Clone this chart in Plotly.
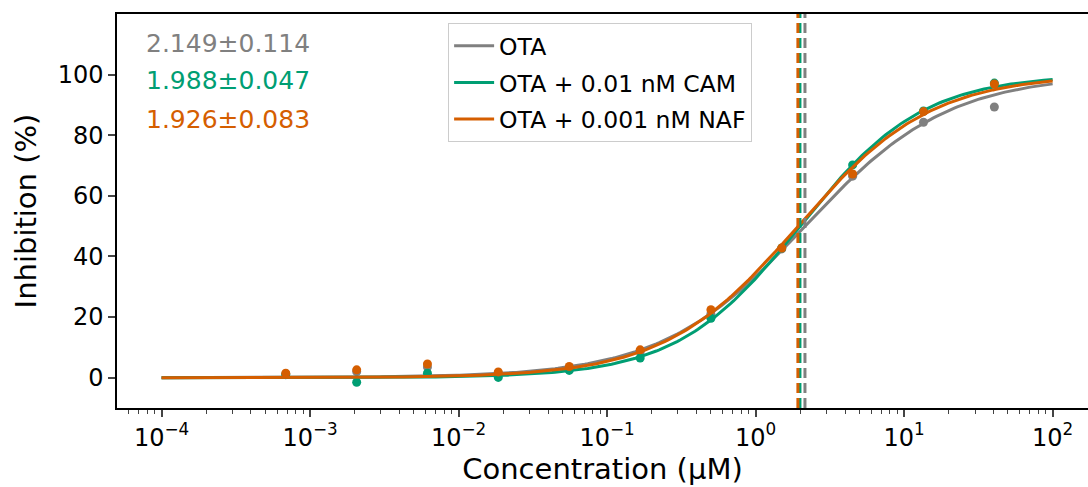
import numpy as np
import plotly.graph_objects as go

# ---- data ----
conc = [0.000686, 0.00206, 0.00617, 0.0185, 0.0556, 0.167, 0.5, 1.5, 4.5, 13.5, 40.5]
ota = [1.2, 2.0, 3.5, 1.5, 3.0, 8.5, 21.0, 42.5, 66.5, 84.3, 89.3]
ota_cam = [1.0, -1.5, 1.5, 0.1, 2.4, 6.5, 19.6, 42.8, 70.2, 88.0, 97.2]
ota_naf = [1.5, 2.6, 4.5, 1.9, 3.7, 9.2, 22.4, 42.8, 67.2, 87.8, 96.9]

names = ["OTA", "OTA + 0.01 nM CAM", "OTA + 0.001 nM NAF"]
ic50 = [2.149, 1.988, 1.926]
ic50_err = [0.114, 0.047, 0.083]
hill = [0.90, 1.05, 0.97]
top = [100.0, 100.0, 100.0]
bottom = [0.0, 0.0, 0.0]
colors = ["#808080", "#009E73", "#D55E00"]

tick_vals = [1e-4, 1e-3, 1e-2, 1e-1, 1e0, 1e1, 1e2]
tick_text = ["10<sup>−4</sup>", "10<sup>−3</sup>", "10<sup>−2</sup>", "10<sup>−1</sup>",
             "10<sup>0</sup>", "10<sup>1</sup>", "10<sup>2</sup>"]

FONT = "DejaVu Sans"
fig = go.Figure()

xfit = np.logspace(-4, 2, 300)
series = [ota, ota_cam, ota_naf]
for i in range(3):
    yfit = bottom[i] + (top[i] - bottom[i]) / (1 + (ic50[i] / xfit) ** hill[i])
    fig.add_trace(go.Scatter(x=xfit, y=yfit, mode="lines", name=names[i],
                             line=dict(color=colors[i], width=3),
                             legendgroup=names[i]))
    fig.add_trace(go.Scatter(x=conc, y=series[i], mode="markers", showlegend=False,
                             marker=dict(color=colors[i], size=9)))
for i in range(3):
    fig.add_trace(go.Scatter(x=[ic50[i], ic50[i]], y=[-10, 120], mode="lines",
                             showlegend=False,
                             line=dict(color=colors[i], width=3, dash="10px,5px")))

text_y = [0.926, 0.830, 0.733]
for i in range(3):
    fig.add_annotation(xref="paper", yref="paper", x=0.028, y=text_y[i],
                       xanchor="left", yanchor="middle", showarrow=False,
                       text=f"{ic50[i]:.3f}±{ic50_err[i]:.3f}",
                       font=dict(family=FONT, size=25, color=colors[i]))

fig.update_layout(
    width=1088, height=487,
    margin=dict(l=117, r=0, t=14, b=79),
    paper_bgcolor="white", plot_bgcolor="white",
    font=dict(family=FONT, color="black"),
    legend=dict(x=0.341, y=0.977, xanchor="left", yanchor="top",
                bordercolor="#cccccc", borderwidth=1, bgcolor="rgba(255,255,255,0.8)",
                font=dict(family=FONT, size=23.5), tracegroupgap=3, itemwidth=40,
                traceorder="grouped"),
)
fig.update_xaxes(type="log", range=[-4.3, 2.238], automargin=False,
                 tickvals=tick_vals, ticktext=tick_text,
                 tickfont=dict(family=FONT, size=24),
                 ticks="outside", ticklen=7, tickwidth=1.5,
                 showline=True, linecolor="black", linewidth=1.5, mirror=True,
                 showgrid=False, zeroline=False,
                 minor=dict(ticks="outside", ticklen=4, tickwidth=1, dtick="D1",
                            showgrid=False),
                 title=dict(text="Concentration (μM)", font=dict(family=FONT, size=29),
                            standoff=2))
fig.update_yaxes(range=[-10, 120], tickvals=[0, 20, 40, 60, 80, 100], automargin=False,
                 tickfont=dict(family=FONT, size=24),
                 ticks="outside", ticklen=7, tickwidth=1.5,
                 showline=True, linecolor="black", linewidth=1.5, mirror=False,
                 showgrid=False, zeroline=False,
                 title=dict(text="Inhibition (%)", font=dict(family=FONT, size=29),
                            standoff=12))

fig.write_html("out.html", config={"displayModeBar": False},
               post_script="document.body.style.margin='0';document.body.style.overflow='hidden';")
